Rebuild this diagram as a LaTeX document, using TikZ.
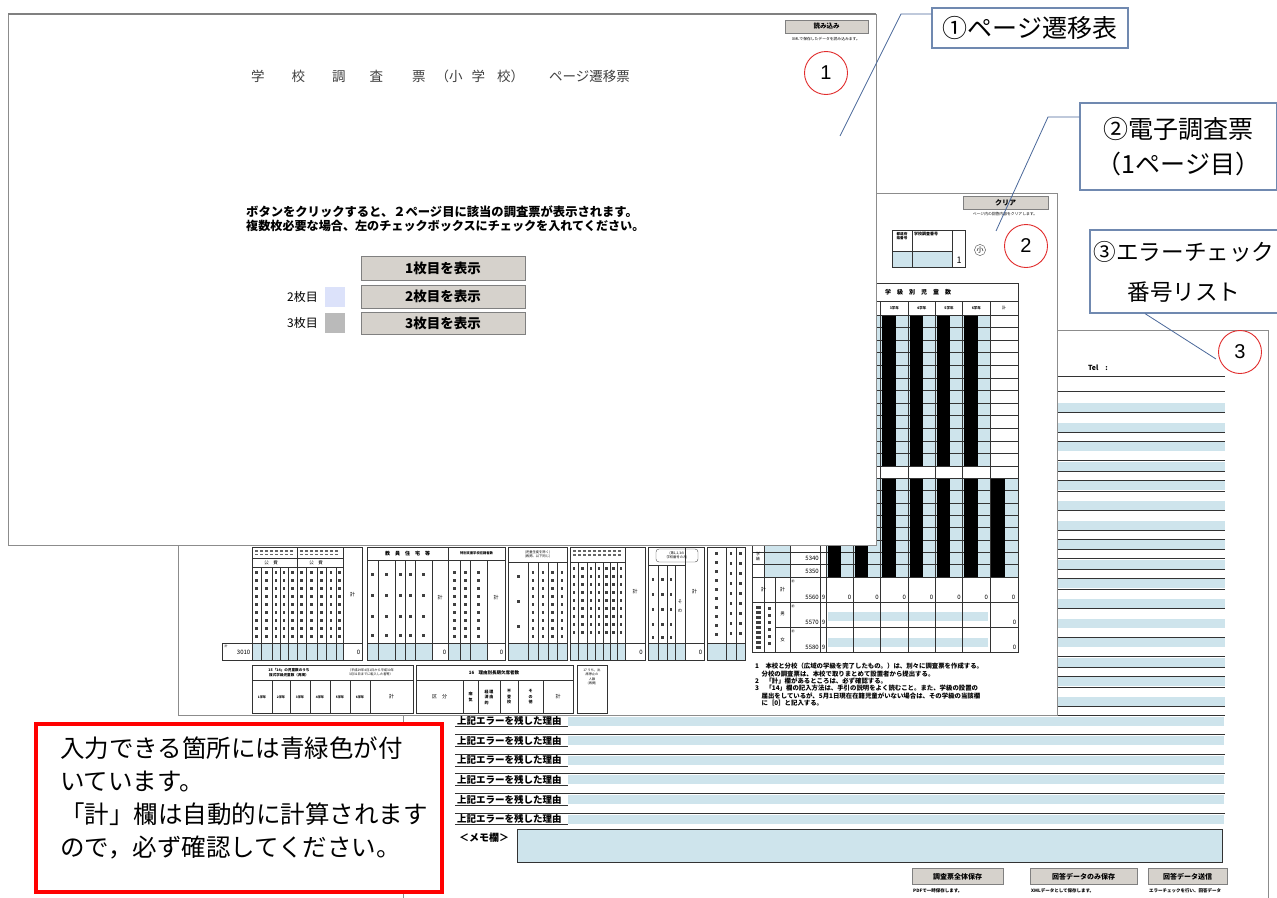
\documentclass[tikz,border=0pt]{standalone}
\usepackage{fontspec}
\setmainfont{Noto Sans CJK JP}
\newfontfamily\lsans{Liberation Sans}
\definecolor{cellblue}{RGB}{206,228,236}
\definecolor{btngray}{RGB}{214,210,204}
\definecolor{callblue}{RGB}{112,137,176}
\definecolor{leadblue}{RGB}{74,104,154}
\definecolor{lav}{RGB}{220,226,250}
\definecolor{redc}{RGB}{225,45,45}
\newcommand\myfs[1]{\fontsize{#1}{#1}\selectfont}
\tikzset{
  grid/.style={draw=black!80,line width=0.5pt},
  pg/.style={draw=black!45,fill=white,line width=0.8pt},
  btn/.style={draw=black!50,fill=btngray,line width=0.7pt,inner sep=0pt,font=\bfseries\myfs{13.5}},
  sbtn/.style={draw=black!50,fill=btngray,line width=0.5pt,inner sep=0pt,font=\bfseries\myfs{7}},
  callbox/.style={draw=callblue,line width=1.2pt,fill=white,inner sep=0pt,align=center},
  leader/.style={draw=leadblue,line width=0.8pt},
  redcirc/.style={circle,draw=redc,line width=0.9pt,minimum size=43pt,inner sep=0pt,font=\lsans\myfs{20}},
  tx/.style={inner sep=0pt,font=\myfs{#1}},
  tx/.default=6,
  gl/.style={fill=black!75},
}
\begin{document}
\begin{tikzpicture}[x=1pt,y=-1pt]
\useasboundingbox (0,0) rectangle (1277,897);
\fill[white] (0,0) rectangle (1277,897);

%%%%%%%%%%%%%%%% Page 3 : error list
\path[pg] (403,330) rectangle (1268,905);
\node[inner sep=0pt,font=\bfseries\myfs{7}] (tel) at (1098,368) {Tel\quad :};
\draw[grid] (455,376) -- (1225,376);
\draw[grid] (455,391) -- (1225,391);
\foreach \k in {0,...,15}{\fill[cellblue] (455,403+19.6*\k) rectangle (1225,412+19.6*\k);}
\foreach \k in {2,3,4,7,8,9,12,13,14}{\draw[grid] (455,401.8+19.6*\k) -- (1225,401.8+19.6*\k);}
\foreach \k in {0,1,3,4,5,6,7,8,9,10,13,14,15}{\draw[grid] (455,412.5+19.6*\k) -- (1225,412.5+19.6*\k);}
\foreach \k [count=\n] in {16,...,21}{
  \draw[grid,line width=0.9pt] (455,401.5+19.6*\k) -- (1225,401.5+19.6*\k);
  \fill[cellblue] (568,403+19.6*\k) rectangle (1224,412+19.6*\k);
  \node[inner sep=0pt,anchor=west,font=\bfseries\myfs{9.5}] (why\n) at (457,407.5+19.6*\k) {上記エラーを残した理由};
  \draw[black!80,line width=0.5pt] (455,413+19.6*\k) -- (568,413+19.6*\k);
}
\node[inner sep=0pt,anchor=west,font=\bfseries\myfs{10}] (memolbl) at (459,838) {＜メモ欄＞};
\node[grid,fill=cellblue,minimum width=705pt,minimum height=33pt,inner sep=0pt] (memo) at (869.5,845.5) {};
\node[sbtn,minimum width=91pt,minimum height=16pt] (b1) at (957.5,876.5) {調査票全体保存};
\node[sbtn,minimum width=107pt,minimum height=16pt] (b2) at (1083.5,876.5) {回答データのみ保存};
\node[sbtn,minimum width=79pt,minimum height=16pt] (b3) at (1187.5,876.5) {回答データ送信};
\node[inner sep=0pt,anchor=west,font=\bfseries\myfs{4.5}] (b1t) at (913,891) {PDFで一時保存します。};
\node[inner sep=0pt,anchor=west,font=\bfseries\myfs{4.5}] (b2t) at (1031,891) {XMLデータとして保存します。};
\node[inner sep=0pt,anchor=west,font=\bfseries\myfs{4.5}] (b3t) at (1149,891) {エラーチェックを行い、回答データ};

%%%%%%%%%%%%%%%% Page 2 : survey sheet
\path[pg] (178,193) rectangle (1057,715);
\node[sbtn,minimum width=85pt,minimum height=13pt] (clr) at (1005.5,202.5) {クリア};
\node[inner sep=0pt,font=\myfs{3.8}] (clrt) at (1005,214) {ページ内の回答内容をクリアします。};
% school number box
\fill[cellblue] (892.5,251) rectangle (952,266.5);
\draw[grid] (892,230) rectangle (965,267);
\draw[grid] (892,251) -- (952,251);
\draw[grid] (912,230) -- (912,267);
\draw[grid] (952,230) -- (952,267);
\node[inner sep=0pt,align=center,font=\bfseries\fontsize{3.6}{4.4}\selectfont] (prefno) at (902,236) {都道府\\県番号};
\node[inner sep=0pt,anchor=north west,font=\bfseries\myfs{4}] (schno) at (914,232) {学校調査番号};
\node[inner sep=0pt,font=\myfs{9}] (one) at (959,260) {1};
\node[circle,draw=black!70,inner sep=0.6pt,font=\myfs{7}] (sho) at (980,250) {小};
\node[redcirc] (c2) at (1026,246) {2};

% class table (学級別児童数)
\fill[cellblue] (826,315) rectangle (990,466);
\fill[cellblue] (826,478) rectangle (1018,577);
\fill[cellblue] (764,478) rectangle (790,577);
\foreach \i in {1,...,11}{\draw[grid] (752,315+12.58*\i) -- (1018,315+12.58*\i);}
\foreach \i in {1,...,7}{\draw[grid] (752,478+12.375*\i) -- (1018,478+12.375*\i);}
\foreach \c in {0,...,5}{\fill[black] (827.5+27.33*\c,315) rectangle (841+27.33*\c,466);}
\foreach \c in {0,...,6}{\fill[black] (827.5+27.33*\c,478) rectangle (841+27.33*\c,577);}
\fill[cellblue] (828,612) rectangle (988,621);
\fill[cellblue] (828,638) rectangle (988,647);
\draw[grid] (752,283) rectangle (1018,652);
\draw[grid] (826,301) -- (1018,301);
\foreach \yy in {315,466,478,577,602}{\draw[grid] (752,\yy) -- (1018,\yy);}
\draw[grid] (775,627) -- (1018,627);
\foreach \xx in {853.33,880.67,908,935.33,962.67,990}{\draw[grid] (\xx,301) -- (\xx,652);}
\draw[grid] (826,283) -- (826,652);
\draw[grid] (764,315) -- (764,652);
\draw[grid] (790,283) -- (790,652);
\draw[grid] (820,315) -- (820,652);
\draw[grid] (775,577) -- (775,652);
\node[font=\bfseries\myfs{6}] (ghead) at (918,292) {学　級　別　児　童　数};
\foreach \c/\lab in {0/1学年,1/2学年,2/3学年,3/4学年,4/5学年,5/6学年}{
  \node[tx=3.5,font=\bfseries\myfs{3.5}] (gcol\c) at (839.7+27.33*\c,308) {\lab};}
\node[tx=4] (gcolk) at (1004,308) {計};
\node[tx=4,align=center,font=\fontsize{4}{5}\selectfont] (gkyu) at (758,556) {学\\級};
\node[tx=6,anchor=east] (r5340) at (819,558.5) {5340};
\node[tx=6,anchor=east] (r5350) at (819,571) {5350};
\node[tx=5] (gk1) at (763.5,590) {計};
\node[tx=5] (gk2) at (782.5,590) {計};
\node[tx=6,anchor=east] (r5560) at (819,597) {5560};
\node[tx=6,anchor=east] (r5570) at (819,622) {5570};
\node[tx=6,anchor=east] (r5580) at (819,647) {5580};
\node[tx=3] (mae1) at (793,581) {前};
\node[tx=3] (mae2) at (793,606) {前};
\node[tx=3] (mae3) at (793,631) {前};
\foreach \yy/\nm in {597/a,622/b,647/c}{\node[tx=6] (nine\nm) at (823.5,\yy) {9};}
\foreach \c in {0,...,6}{\node[tx=6,anchor=east] (zero\c) at (851.5+27.33*\c,597) {0};}
\node[tx=6,anchor=east] (zero70) at (1016.5,622) {0};
\node[tx=6,anchor=east] (zero80) at (1016.5,647) {0};
\node[tx=4.5] (gm) at (782.5,614) {男};
\node[tx=4.5] (gf) at (782.5,640) {女};
\foreach \cy in {606,611,...,646}{\fill[gl] (756,\cy) rectangle (761,\cy+2.5);}
\foreach \cy in {607,614,...,645}{\fill[gl] (768,\cy) rectangle (771,\cy+3);}
\node[inner sep=0pt,anchor=north west,align=left,font=\bfseries\fontsize{6.4}{7.4}\selectfont] (notes) at (755,663) {1\quad 本校と分校（広域の学級を完了したもの。）は、別々に調査票を作成する。\\
\quad 分校の調査票は、本校で取りまとめて設置者から提出する。\\
2\quad 「計」欄があるところは、必ず確認する。\\
3\quad 「14」欄の記入方法は、手引の説明をよく読むこと。また、学級の設置の\\
\quad 届出をしているが、5月1日現在在籍児童がいない場合は、その学級の当該欄\\
\quad に［0］と記入する。};

% lower-left tables : group A
\fill[cellblue] (252,643) rectangle (343,660);
\draw[grid] (252,547) rectangle (362,660);
\draw[grid] (252,558) -- (343,558);
\draw[grid] (252,567) -- (343,567);
\draw[grid] (252,643) -- (362,643);
\foreach \xx in {261,272,280,288,306,317,326,336}{\draw[grid] (\xx,567) -- (\xx,660);}
\foreach \xx in {297,343}{\draw[grid] (\xx,547) -- (\xx,660);}
\foreach \cx in {256.5,266.5,276,284,292.5,301.5,311.5,321.5,331,339.5}{
  \foreach \cy in {571,579,...,635}{\fill[gl] (\cx-1.4,\cy) rectangle (\cx+1.4,\cy+2.6);}}
\foreach \cx in {255,260,...,290}{\fill[black!60] (\cx,550) rectangle (\cx+3,551.5); \fill[black!60] (\cx,553.5) rectangle (\cx+3,555);}
\foreach \cx in {300,305,...,335}{\fill[black!60] (\cx,550) rectangle (\cx+3,551.5); \fill[black!60] (\cx,553.5) rectangle (\cx+3,555);}
\node[tx=4.5] (gah1) at (271,562.5) {公\quad 費};
\node[tx=4.5] (gah2) at (316,562.5) {公\quad 費};
\node[tx=5] (gak) at (352.5,595) {計};
\node[tx=6,anchor=east] (ga0) at (360.5,652) {0};
\draw[grid] (222,643) rectangle (252,660);
\node[tx=3] (kei3010) at (226,646) {計};
\node[tx=6,anchor=east] (c3010) at (250.5,652.5) {3010};
% group B
\fill[cellblue] (367,643) rectangle (432,660);
\fill[cellblue] (448,643) rectangle (487,660);
\draw[grid] (367,547) rectangle (505,660);
\draw[grid] (367,560) -- (505,560);
\draw[grid] (367,643) -- (505,643);
\foreach \xx in {378,395,405,415,432,460,470,487}{\draw[grid] (\xx,560) -- (\xx,660);}
\draw[grid] (448,547) -- (448,660);
\node[font=\bfseries\myfs{5}] (gbh1) at (407.5,553.5) {教　員　住　宅　等};
\node[font=\bfseries\myfs{3.3}] (gbh2) at (476.5,553.5) {特別支援学校在籍者数};
\foreach \cx in {372.5,386.5,400,410,423.5}{\foreach \cy in {573,594,615,634}{\fill[gl] (\cx-1.5,\cy) rectangle (\cx+1.5,\cy+2.6);}}
\foreach \cx in {454,465,478.5}{\foreach \cy in {571,579,...,635}{\fill[gl] (\cx-1.5,\cy) rectangle (\cx+1.5,\cy+2.6);}}
\node[tx=5] (gbk1) at (440,598) {計};
\node[tx=5] (gbk2) at (496,598) {計};
\node[tx=6,anchor=east] (gb01) at (446.5,652) {0};
\node[tx=6,anchor=east] (gb02) at (503.5,652) {0};
% group C
\fill[cellblue] (508,643) rectangle (567,660);
\draw[grid] (508,547) rectangle (567,660);
\draw[grid] (508,562) -- (567,562);
\draw[grid] (508,643) -- (567,643);
\foreach \xx in {528,538,548,557}{\draw[grid] (\xx,562) -- (\xx,660);}
\node[inner sep=0pt,align=center,font=\fontsize{3.3}{4.3}\selectfont] (gch) at (537.5,554.5) {(児童生徒を除く)\\(再掲、以下同じ)};
\foreach \cy in {575,600,625}{\fill[gl] (516.5,\cy) rectangle (519.5,\cy+2.6);}
\foreach \cx in {533,543,552.5,562}{\foreach \cy in {571,579,...,635}{\fill[gl] (\cx-1.4,\cy) rectangle (\cx+1.4,\cy+2.6);}}
% group D
\fill[cellblue] (570,643) rectangle (625,660);
\draw[grid] (570,547) rectangle (645,660);
\draw[grid] (570,562) -- (625,562);
\draw[grid] (570,643) -- (645,643);
\foreach \xx in {578,587,595,603,610,617}{\draw[grid] (\xx,562) -- (\xx,660);}
\draw[grid] (625,547) -- (625,660);
\foreach \cx in {573,578,...,618}{\fill[black!60] (\cx,550) rectangle (\cx+3,551.5); \fill[black!60] (\cx,554) rectangle (\cx+3,555.5);}
\foreach \cx in {574,582.5,591,599,606.5,613.5,621}{\foreach \cy in {567,575,...,631}{\fill[gl] (\cx-1.4,\cy) rectangle (\cx+1.4,\cy+2.6);}}
\node[tx=5] (gdk) at (635,592) {計};
\node[tx=6,anchor=east] (gd0) at (643,652) {0};
% group E
\fill[cellblue] (648,643) rectangle (685,660);
\draw[grid] (648,547) rectangle (704,660);
\draw[grid] (648,565) -- (685,565);
\draw[grid] (648,643) -- (704,643);
\foreach \xx in {658,667,675}{\draw[grid] (\xx,565) -- (\xx,660);}
\draw[grid] (685,547) -- (685,660);
\draw[black!70,line width=0.4pt,rounded corners=3pt] (656,549) rectangle (698,562);
\node[inner sep=0pt,align=center,font=\fontsize{3.3}{4.3}\selectfont] (geh) at (677,555.5) {(第1,2,3の\\学校番号のみ)};
\foreach \cx in {653,662.5,671}{\foreach \cy in {580,595,610,625,638}{\fill[gl] (\cx-1.4,\cy-2) rectangle (\cx+1.4,\cy+0.6);}}
\node[tx=4.5,align=center,font=\fontsize{4.5}{9}\selectfont] (gesono) at (680,606) {そ\\の};
\node[tx=5] (gek) at (694.5,592) {計};
\node[tx=6,anchor=east] (ge0) at (702.5,652) {0};
% group F
\fill[cellblue] (707,643) rectangle (745,660);
\draw[grid] (707,547) rectangle (745,660);
\draw[grid] (707,643) -- (745,643);
\foreach \xx in {726,736}{\draw[grid] (\xx,547) -- (\xx,660);}
\foreach \cy in {552,561,...,633}{\fill[gl] (715,\cy) rectangle (718,\cy+2.6);}
\foreach \cx in {731,740.5}{\foreach \cy in {552,562,...,632}{\fill[gl] (\cx-1.4,\cy) rectangle (\cx+1.4,\cy+2.6);}}
% table 15
\draw[grid] (252,665) rectangle (413,713);
\draw[grid] (252,680) -- (413,680);
\foreach \xx in {272,290,310,330,350,370}{\draw[grid] (\xx,680) -- (\xx,713);}
\node[inner sep=0pt,align=center,font=\bfseries\fontsize{3.6}{4.6}\selectfont] (t15h) at (289,672.5) {15「14」の児童数のうち\\複式学級児童数（再掲）};
\node[inner sep=0pt,align=center,font=\fontsize{3.2}{4.2}\selectfont] (t15b) at (371,672.5) {（平成29年4月1日から平成30年\\3月31日までに転入した者等）};
\foreach \c/\lab in {262/1学年,281/2学年,300/3学年,320/4学年,340/5学年,360/6学年}{
  \node[tx=3.2,font=\bfseries\myfs{3.2}] (t15\c) at (\c,697) {\lab};}
\node[tx=5] (t15k) at (391.5,697) {計};
% table 16
\draw[grid] (416,665) rectangle (573,713);
\draw[grid] (416,680) -- (573,680);
\foreach \xx in {463,478,500,518,543}{\draw[grid] (\xx,680) -- (\xx,713);}
\node[font=\bfseries\myfs{4.5}] (t16h) at (494,672.5) {16\quad 理由別長期欠席者数};
\node[tx=5] (t16a) at (439.5,697) {区\quad 分};
\node[inner sep=0pt,align=center,font=\bfseries\fontsize{4}{5.5}\selectfont] (t16b) at (470.5,697) {病\\気};
\node[inner sep=0pt,align=center,font=\bfseries\fontsize{4}{5.5}\selectfont] (t16c) at (489,697) {経\,理\\済\,由\\的\,\phantom{由}};
\node[inner sep=0pt,align=center,font=\bfseries\fontsize{4}{5.5}\selectfont] (t16d) at (509,697) {不\\登\\校};
\node[inner sep=0pt,align=center,font=\bfseries\fontsize{4}{5.5}\selectfont] (t16e) at (530.5,697) {そ\\の\\他};
\node[tx=5] (t16k) at (558,697) {計};
% table 17
\draw[grid] (577,665) rectangle (607,713);
\node[inner sep=0pt,align=center,font=\fontsize{3.2}{4.2}\selectfont] (t17) at (592,677) {17 うち，出\\席停止の\\人数\\(再掲)};

%%%%%%%%%%%%%%%% Page 1 : page transition table
\path[pg] (8,14) rectangle (876,545);
\draw[black!50,line width=1.6pt] (8,14) -- (876,14);
\node[sbtn,font=\bfseries\myfs{6.5},minimum width=83pt,minimum height=13pt] (load) at (826.5,26.5) {読み込み};
\node[inner sep=0pt,font=\myfs{3.8}] (loadt) at (826,39) {XMLで保存したデータを読み込みます。};
\node[redcirc] (c1) at (826,73) {1};
\node[anchor=west,inner sep=0pt,font=\myfs{13.5},text=black!75] (title) at (251,76) {学\hspace{27pt}校\hspace{27pt}調\hspace{24pt}査\hspace{29pt}票\hspace{10pt}（小\hspace{9pt}学\hspace{12pt}校）\hspace{25pt}ページ遷移票};
\node[anchor=west,inner sep=0pt,font=\bfseries\myfs{12.3}] (line1) at (246,212) {ボタンをクリックすると、２ページ目に該当の調査票が表示されます。};
\node[anchor=west,inner sep=0pt,font=\bfseries\myfs{12.1}] (line2) at (246,226) {複数枚必要な場合、左のチェックボックスにチェックを入れてください。};
\node[btn,minimum width=164pt,minimum height=24pt] (show1) at (443,268) {1枚目を表示};
\node[btn,minimum width=164pt,minimum height=23pt] (show2) at (443,296.5) {2枚目を表示};
\node[btn,minimum width=164pt,minimum height=22pt] (show3) at (443,323) {3枚目を表示};
\node[inner sep=0pt,fill=lav,minimum width=20pt,minimum height=20pt] (chk2) at (335,296.5) {};
\node[inner sep=0pt,fill=black!27,minimum width=20pt,minimum height=20pt] (chk3) at (335,322.5) {};
\node[anchor=east,inner sep=0pt,font=\myfs{12}] (lab2) at (318,296.5) {2枚目};
\node[anchor=east,inner sep=0pt,font=\myfs{12}] (lab3) at (318,322.5) {3枚目};

%%%%%%%%%%%%%%%% circle 3 (on page 3, visible)
\node[redcirc] (c3) at (1240,352) {3};

%%%%%%%%%%%%%%%% callouts
\node[callbox,minimum width=196pt,minimum height=40pt,font=\myfs{25}] (box1) at (1030,28) {①ページ遷移表};
\node[callbox,minimum width=197pt,minimum height=87pt,font=\fontsize{25}{35}\selectfont] (box2) at (1178.5,146.5) {②電子調査票\\（1ページ目）};
\node[callbox,minimum width=188pt,minimum height=83pt,font=\fontsize{22.6}{40}\selectfont] (box3) at (1184,271.5) {③エラーチェック\\番号リスト};
\coordinate (l1a) at (901,14);
\coordinate (l1b) at (840,136);
\coordinate (l2a) at (1048,117);
\coordinate (l2b) at (996,231);
\coordinate (l3a) at (1145,313);
\coordinate (l3b) at (1216,359);
\draw[leader] (box1.west |- l1a) -- (l1a) -- (l1b);
\draw[leader] (box2.west |- l2a) -- (l2a) -- (l2b);
\draw[leader] (box3.south -| l3a) -- (l3b);

%%%%%%%%%%%%%%%% red note
\node[draw=red,line width=3.5pt,fill=white,minimum width=406pt,minimum height=168pt,inner sep=0pt] (notebox) at (239,808) {};
\node[anchor=north west,inner sep=0pt,align=left,font=\fontsize{24.5}{33}\selectfont] (notetext) at (60,737) {入力できる箇所には青緑色が付\\いています。\\「計」欄は自動的に計算されます\\ので，必ず確認してください。};
\end{tikzpicture}
\end{document}
